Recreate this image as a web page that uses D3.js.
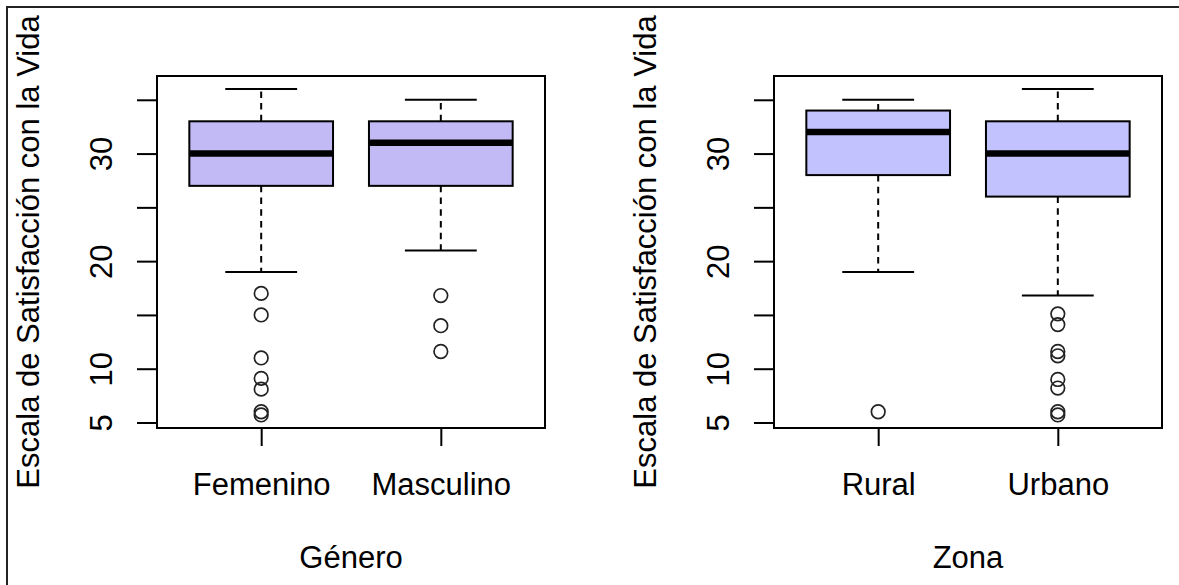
<!DOCTYPE html>
<html>
<head>
<meta charset="utf-8">
<script src="https://cdn.jsdelivr.net/npm/d3@7"></script>
<style>
  html, body { margin: 0; padding: 0; background: #fff; }
  svg { display: block; }
  text { font-family: "Liberation Sans", Arial, Helvetica, sans-serif; fill: #000; }
</style>
</head>
<body>
<svg id="chart" width="1179" height="585"></svg>
<script>
// ---- Data ----
const generoCategories = ["Femenino", "Masculino"];
const generoLowerWhisker = [19, 21];
const generoQ1 = [27, 27];
const generoMedian = [30, 31];
const generoQ3 = [33, 33];
const generoUpperWhisker = [36, 35];
const generoOutliers = [
  [17, 15, 11, 9.1, 8.1, 6.0, 5.7],
  [16.8, 14.0, 11.6]
];

const zonaCategories = ["Rural", "Urbano"];
const zonaLowerWhisker = [19, 16.8];
const zonaQ1 = [28, 26];
const zonaMedian = [32, 30];
const zonaQ3 = [34, 33];
const zonaUpperWhisker = [35, 36];
const zonaOutliers = [
  [6.0],
  [15.1, 14.1, 11.6, 11.2, 9.0, 8.2, 6.0, 5.7]
];

const yTicks = [5, 10, 15, 20, 25, 30, 35];
const yTickLabels = [5, 10, 20, 30];
const yLabel = "Escala de Satisfacción con la Vida";
const xLabels = ["Género", "Zona"];

// ---- Layout ----
const svg = d3.select("#chart");
const FONT = 31;

// outer figure frame (extends past right/bottom edges like the reference)
svg.append("rect")
  .attr("x", 7).attr("y", 7).attr("width", 1200).attr("height", 600)
  .attr("fill", "none").attr("stroke", "#222").attr("stroke-width", 2);

function buildGroups(cats, lo, q1, med, q3, hi, outs) {
  return cats.map((c, i) => ({ cat: c, lo: lo[i], q1: q1[i], med: med[i], q3: q3[i], hi: hi[i], outs: outs[i] }));
}

const allVals = [];
[generoLowerWhisker, generoUpperWhisker, zonaLowerWhisker, zonaUpperWhisker].forEach(a => allVals.push(...a));
generoOutliers.concat(zonaOutliers).forEach(a => allVals.push(...a));
const vmin = d3.min(allVals), vmax = d3.max(allVals);
const ext = (vmax - vmin) * 0.04;

function drawPanel(left, groups, fill, xlab) {
  const plotL = left, plotR = left + 388, plotT = 76, plotB = 428;
  const g = svg.append("g");

  const y = d3.scaleLinear().domain([vmin - ext, vmax + ext]).range([plotB, plotT]);
  const n = groups.length;
  const xext = n * 0.04; // R's 4% extension of [0.5, n+0.5]
  const x = d3.scaleLinear().domain([0.5 - xext, n + 0.5 + xext]).range([plotL, plotR]);
  const unit = x(1) - x(0);
  const boxHalf = 0.4 * unit;
  const capHalf = 0.2 * unit;

  // y axis
  const yAxis = d3.axisLeft(y).tickValues(yTicks).tickSize(20).tickFormat(d => yTickLabels.includes(d) ? d : "");
  const ya = g.append("g").attr("transform", `translate(${plotL},0)`).call(yAxis);
  ya.select(".domain").attr("stroke", "#000").attr("stroke-width", 2)
    .attr("d", `M0,${y(yTicks[0])}V${y(yTicks[yTicks.length - 1])}`);
  ya.selectAll(".tick line").attr("stroke", "#000").attr("stroke-width", 2);
  ya.selectAll(".tick text")
    .attr("x", 0).attr("dy", null).attr("y", 0)
    .attr("transform", "translate(-45,0) rotate(-90)")
    .attr("text-anchor", "middle")
    .style("font-size", FONT + "px")
    .style("font-family", '"Liberation Sans", Arial, sans-serif')
    .attr("fill", "#000");

  // x axis
  const xAxis = d3.axisBottom(x).tickValues(d3.range(1, n + 1)).tickSize(18).tickFormat(d => groups[d - 1].cat);
  const xa = g.append("g").attr("transform", `translate(0,${plotB})`).call(xAxis);
  xa.select(".domain").remove();
  xa.selectAll(".tick line").attr("stroke", "#000").attr("stroke-width", 2);
  xa.selectAll(".tick text")
    .attr("y", 67).attr("dy", null)
    .style("font-size", FONT + "px")
    .style("font-family", '"Liberation Sans", Arial, sans-serif')
    .attr("fill", "#000");

  // boxes
  groups.forEach((d, i) => {
    const cx = x(i + 1);
    const bg = g.append("g");
    // whiskers (dashed)
    bg.append("line").attr("x1", cx).attr("x2", cx).attr("y1", y(d.q3)).attr("y2", y(d.hi))
      .attr("stroke", "#000").attr("stroke-width", 2).attr("stroke-dasharray", "6.5,5.2");
    bg.append("line").attr("x1", cx).attr("x2", cx).attr("y1", y(d.q1)).attr("y2", y(d.lo))
      .attr("stroke", "#000").attr("stroke-width", 2).attr("stroke-dasharray", "6.5,5.2");
    // caps
    [d.hi, d.lo].forEach(v => {
      bg.append("line").attr("x1", cx - capHalf).attr("x2", cx + capHalf).attr("y1", y(v)).attr("y2", y(v))
        .attr("stroke", "#000").attr("stroke-width", 2);
    });
    // box
    bg.append("rect").attr("x", cx - boxHalf).attr("width", 2 * boxHalf)
      .attr("y", y(d.q3)).attr("height", y(d.q1) - y(d.q3))
      .attr("fill", fill).attr("stroke", "#000").attr("stroke-width", 2);
    // median
    bg.append("line").attr("x1", cx - boxHalf).attr("x2", cx + boxHalf).attr("y1", y(d.med)).attr("y2", y(d.med))
      .attr("stroke", "#000").attr("stroke-width", 6.5);
    // outliers
    bg.selectAll("circle").data(d.outs).join("circle")
      .attr("cx", cx).attr("cy", v => y(v)).attr("r", 6.8)
      .attr("fill", "none").attr("stroke", "#222").attr("stroke-width", 1.7);
  });

  // plot frame
  g.append("rect").attr("x", plotL).attr("y", plotT).attr("width", plotR - plotL).attr("height", plotB - plotT)
    .attr("fill", "none").attr("stroke", "#000").attr("stroke-width", 2);

  // y label
  g.append("text")
    .attr("transform", `translate(${plotL - 118},${(plotT + plotB) / 2}) rotate(-90)`)
    .attr("text-anchor", "middle")
    .style("font-size", FONT + "px")
    .text(yLabel);

  // x label
  g.append("text")
    .attr("x", (plotL + plotR) / 2).attr("y", 568)
    .attr("text-anchor", "middle")
    .style("font-size", FONT + "px")
    .text(xlab);
}

drawPanel(157,
  buildGroups(generoCategories, generoLowerWhisker, generoQ1, generoMedian, generoQ3, generoUpperWhisker, generoOutliers),
  "#C2BAF4", xLabels[0]);
drawPanel(774,
  buildGroups(zonaCategories, zonaLowerWhisker, zonaQ1, zonaMedian, zonaQ3, zonaUpperWhisker, zonaOutliers),
  "#C2C2FE", xLabels[1]);
</script>
</body>
</html>
